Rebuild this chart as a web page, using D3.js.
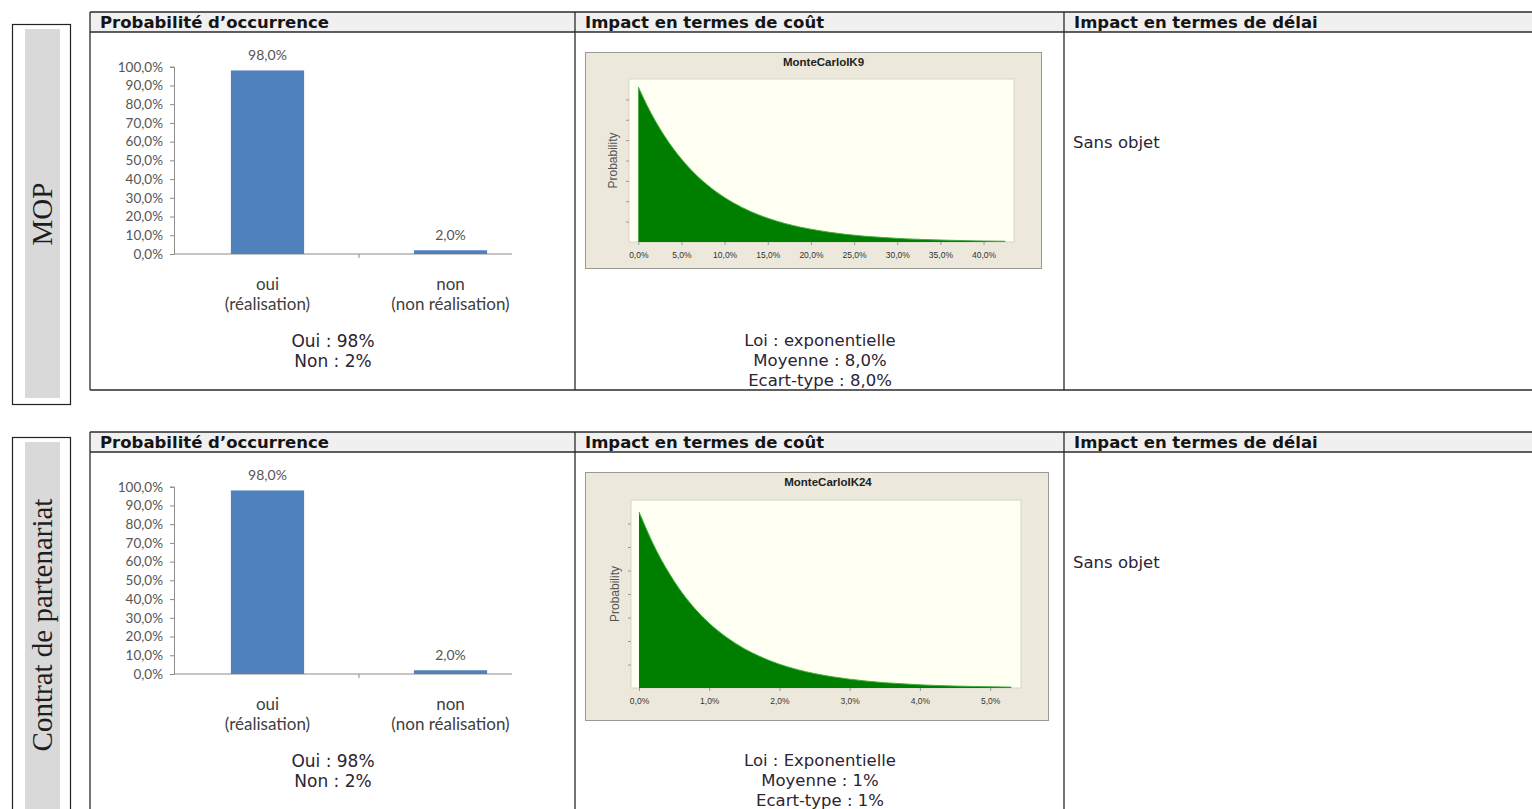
<!DOCTYPE html>
<html>
<head>
<meta charset="utf-8">
<script src="https://cdn.jsdelivr.net/npm/d3@7"></script>
<style>
  body { margin: 0; background: #ffffff; }
  svg { display: block; }
</style>
</head>
<body>
<svg id="sheet" width="1532" height="809"></svg>
<script>
// ---- Content of the risk sheet ----
const rowLabels = ["MOP", "Contrat de partenariat"];
const columnHeaders = ["Probabilité d’occurrence", "Impact en termes de coût", "Impact en termes de délai"];

// Probability of occurrence (bar chart)
const outcomeLines = [["oui", "(réalisation)"], ["non", "(non réalisation)"]];
const outcomeKeys = ["oui", "non"];
const outcomeValuesMOP = [98.0, 2.0];
const outcomeValuesContrat = [98.0, 2.0];
const outcomeTicks = [0, 10, 20, 30, 40, 50, 60, 70, 80, 90, 100];
const probaSummaryMOP = ["Oui : 98%", "Non : 2%"];
const probaSummaryContrat = ["Oui : 98%", "Non : 2%"];

// Cost impact (simulated density)
const costTitles = ["MonteCarloIK9", "MonteCarloIK24"];
const costXMOP = [0, 1, 2, 3, 4, 5, 6, 7, 8, 9, 10, 11, 12, 13, 14, 15, 16, 17, 18, 19, 20,
                  22, 24, 26, 28, 30, 32, 34, 36, 38, 40, 42.5];
const costDensityMOP = [0.1250, 0.1103, 0.0973, 0.0859, 0.0758, 0.0669, 0.0590, 0.0521, 0.0460,
                        0.0406, 0.0358, 0.0316, 0.0279, 0.0246, 0.0217, 0.0192, 0.0169, 0.0149,
                        0.0132, 0.0116, 0.0103, 0.0080, 0.0062, 0.0048, 0.0038, 0.0029, 0.0023,
                        0.0018, 0.0014, 0.0011, 0.0008, 0.0006];
const costTicksMOP = [0, 5, 10, 15, 20, 25, 30, 35, 40];
const costXContrat = [0, 0.25, 0.5, 0.75, 1, 1.25, 1.5, 1.75, 2, 2.25, 2.5, 2.75, 3, 3.25, 3.5,
                      3.75, 4, 4.25, 4.5, 4.75, 5, 5.3];
const costDensityContrat = [1.000, 0.779, 0.607, 0.472, 0.368, 0.287, 0.223, 0.174, 0.135, 0.105,
                            0.082, 0.064, 0.050, 0.039, 0.030, 0.024, 0.018, 0.014, 0.011, 0.009,
                            0.007, 0.005];
const costTicksContrat = [0, 1, 2, 3, 4, 5];
const costSummaryMOP = ["Loi : exponentielle", "Moyenne : 8,0%", "Ecart-type : 8,0%"];
const costSummaryContrat = ["Loi : Exponentielle", "Moyenne : 1%", "Ecart-type : 1%"];

// Delay impact
const delayText = "Sans objet";

// ---- Layout ----
const blocks = [
  {
    label: rowLabels[0], top: 12, bottom: 390, boxTop: 24, boxBottom: 404, labelY: 214,
    values: outcomeValuesMOP, probaSummary: probaSummaryMOP,
    cost: { title: costTitles[0], xs: costXMOP, ys: costDensityMOP, ticks: costTicksMOP,
            panel: [585, 52, 1041, 268], plot: [629, 79, 1014, 242],
            xDomain: [-1.08, 43.53], yMax: 0.1315 },
    costSummary: costSummaryMOP
  },
  {
    label: rowLabels[1], top: 432, bottom: 840, boxTop: 437, boxBottom: 830, labelY: 625,
    values: outcomeValuesContrat, probaSummary: probaSummaryContrat,
    cost: { title: costTitles[1], xs: costXContrat, ys: costDensityContrat, ticks: costTicksContrat,
            panel: [585, 472, 1048, 720], plot: [631, 500, 1021, 688],
            xDomain: [-0.114, 5.44], yMax: 1.068 },
    costSummary: costSummaryContrat
  }
];

const colX = [90, 575, 1064, 1540];
const svg = d3.select("#sheet");
const fmtPct = d => d.toFixed(1).replace(".", ",") + "%";

blocks.forEach(b => {
  const g = svg.append("g");
  const dy = b.top - 12;

  // Row label box on the left
  g.append("rect").attr("x", 12.5).attr("y", b.boxTop + 0.5)
    .attr("width", 58).attr("height", b.boxBottom - b.boxTop)
    .attr("fill", "#fff").attr("stroke", "#222").attr("stroke-width", 1.2);
  g.append("rect").attr("x", 25).attr("y", b.boxTop + 5)
    .attr("width", 35).attr("height", b.boxBottom - b.boxTop - 11)
    .attr("fill", "#d9d9d9");
  g.append("text")
    .attr("transform", `translate(52,${b.labelY}) rotate(-90)`)
    .attr("text-anchor", "middle")
    .attr("font-family", "'Liberation Serif', serif")
    .attr("font-size", 29).attr("fill", "#1e1e1e")
    .text(b.label);

  // Table frame and header
  g.append("rect").attr("x", colX[0]).attr("y", b.top)
    .attr("width", colX[3] - colX[0]).attr("height", 20).attr("fill", "#f0f0f0");
  const frame = g.append("g").attr("stroke", "#2a2a2a").attr("stroke-width", 1.3).attr("fill", "none");
  frame.append("line").attr("x1", colX[0]).attr("x2", colX[3]).attr("y1", b.top).attr("y2", b.top);
  frame.append("line").attr("x1", colX[0]).attr("x2", colX[3]).attr("y1", b.top + 20).attr("y2", b.top + 20);
  frame.append("line").attr("x1", colX[0]).attr("x2", colX[3]).attr("y1", b.bottom).attr("y2", b.bottom);
  colX.slice(0, 3).forEach(x => {
    frame.append("line").attr("x1", x).attr("x2", x).attr("y1", b.top).attr("y2", b.bottom);
  });
  columnHeaders.forEach((h, i) => {
    g.append("text").attr("x", colX[i] + 10).attr("y", b.top + 16)
      .attr("font-family", "'DejaVu Sans', Verdana, sans-serif")
      .attr("font-weight", "bold").attr("font-size", 16.5).attr("fill", "#151515")
      .text(h);
  });

  // ---- Bar chart: probability of occurrence ----
  const y = d3.scaleLinear().domain([0, 100]).range([254 + dy, 66.7 + dy]);
  const x = d3.scaleBand().domain(outcomeKeys).range([176, 542]).paddingInner(0.6).paddingOuter(0.3);
  const bars = g.append("g");

  const yAxis = bars.append("g").attr("transform", "translate(174,0)")
    .call(d3.axisLeft(y).tickValues(outcomeTicks).tickFormat(fmtPct).tickSize(4).tickPadding(7));
  yAxis.selectAll("path, line").attr("stroke", "#8c8c8c");
  yAxis.selectAll("text").attr("font-family", "Lato, sans-serif").attr("font-size", 13.5).attr("fill", "#555");

  // horizontal category axis (line and the tick between both categories)
  bars.append("line").attr("x1", 174).attr("x2", 512).attr("y1", y(0)).attr("y2", y(0))
    .attr("stroke", "#8c8c8c");
  const boundary = (x("oui") + x.bandwidth() + x("non")) / 2;
  bars.append("line").attr("x1", boundary).attr("x2", boundary).attr("y1", y(0)).attr("y2", y(0) + 4)
    .attr("stroke", "#8c8c8c");

  bars.selectAll("rect.bar").data(b.values).enter().append("rect")
    .attr("class", "bar")
    .attr("x", (d, i) => x(outcomeKeys[i]))
    .attr("width", x.bandwidth())
    .attr("y", d => y(d))
    .attr("height", d => y(0) - y(d))
    .attr("fill", "#4f81bd");

  bars.selectAll("text.val").data(b.values).enter().append("text")
    .attr("class", "val")
    .attr("x", (d, i) => x(outcomeKeys[i]) + x.bandwidth() / 2)
    .attr("y", d => y(d) - 10)
    .attr("text-anchor", "middle")
    .attr("font-family", "Lato, sans-serif").attr("font-size", 14).attr("fill", "#555")
    .text(fmtPct);

  outcomeLines.forEach((lines, i) => {
    lines.forEach((t, j) => {
      bars.append("text")
        .attr("x", x(outcomeKeys[i]) + x.bandwidth() / 2)
        .attr("y", 290 + dy + j * 20)
        .attr("text-anchor", "middle")
        .attr("font-family", "Lato, sans-serif").attr("font-size", 17).attr("fill", "#404040")
        .text(t);
    });
  });

  b.probaSummary.forEach((t, j) => {
    g.append("text").attr("x", 333).attr("y", 347 + dy + j * 19.5)
      .attr("text-anchor", "middle")
      .attr("font-family", "'DejaVu Sans', Verdana, sans-serif")
      .attr("font-size", 17).attr("fill", "#2c2434")
      .text(t);
  });

  // ---- Density chart: cost impact ----
  const c = b.cost;
  const [px0, py0, px1, py1] = c.panel;
  const [ax0, ay0, ax1, ay1] = c.plot;
  const dens = g.append("g");
  dens.append("rect").attr("x", px0 + 0.5).attr("y", py0 + 0.5)
    .attr("width", px1 - px0).attr("height", py1 - py0)
    .attr("fill", "#ece9dc").attr("stroke", "#9a9a92");
  dens.append("rect").attr("x", ax0).attr("y", ay0)
    .attr("width", ax1 - ax0).attr("height", ay1 - ay0)
    .attr("fill", "#fffff2").attr("stroke", "#d6d6c8");
  dens.append("text").attr("x", (ax0 + ax1) / 2 + 2).attr("y", py0 + 14)
    .attr("text-anchor", "middle")
    .attr("font-family", "'Liberation Sans', Arial, sans-serif")
    .attr("font-weight", "bold").attr("font-size", 11.5).attr("fill", "#222")
    .text(c.title);

  const cx = d3.scaleLinear().domain(c.xDomain).range([ax0, ax1]);
  const cy = d3.scaleLinear().domain([0, c.yMax]).range([ay1, ay0]);
  const pts = c.xs.map((v, i) => [v, c.ys[i]]);
  const area = d3.area()
    .x(d => cx(d[0])).y0(cy(0)).y1(d => cy(d[1]))
    .curve(d3.curveMonotoneX);
  const line = d3.line().x(d => cx(d[0])).y(d => cy(d[1])).curve(d3.curveMonotoneX);
  dens.append("path").datum(pts).attr("d", area).attr("fill", "#007e00");
  dens.append("path").datum(pts).attr("d", line).attr("fill", "none")
    .attr("stroke", "#3fae3f").attr("stroke-width", 1);

  const xAx = dens.append("g").attr("transform", `translate(0,${ay1})`)
    .call(d3.axisBottom(cx).tickValues(c.ticks).tickFormat(fmtPct)
      .tickSize(3).tickPadding(7));
  xAx.select(".domain").remove();
  xAx.selectAll("line").attr("stroke", "#999");
  xAx.selectAll("text").attr("font-family", "'Liberation Sans', Arial, sans-serif")
    .attr("font-size", 8.5).attr("fill", "#333");

  const yAx = dens.append("g").attr("transform", `translate(${ax0},0)`)
    .call(d3.axisLeft(cy).tickValues(d3.range(1, 8).map(k => k * c.yMax / 8)).tickFormat("").tickSize(3));
  yAx.select(".domain").remove();
  yAx.selectAll("line").attr("stroke", "#999");

  dens.append("text")
    .attr("transform", `translate(${ax0 - 12},${(ay0 + ay1) / 2}) rotate(-90)`)
    .attr("text-anchor", "middle")
    .attr("font-family", "'Liberation Sans', Arial, sans-serif")
    .attr("font-size", 12).attr("fill", "#555")
    .text("Probability");

  b.costSummary.forEach((t, j) => {
    g.append("text").attr("x", 820).attr("y", 346 + dy + j * 20)
      .attr("text-anchor", "middle")
      .attr("font-family", "'DejaVu Sans', Verdana, sans-serif")
      .attr("font-size", 16.5).attr("fill", "#2c2434")
      .text(t);
  });

  // ---- Delay impact ----
  g.append("text").attr("x", 1073).attr("y", 148 + dy)
    .attr("font-family", "'DejaVu Sans', Verdana, sans-serif")
    .attr("font-size", 16.5).attr("fill", "#2c2434")
    .text(delayText);
});
</script>
</body>
</html>
